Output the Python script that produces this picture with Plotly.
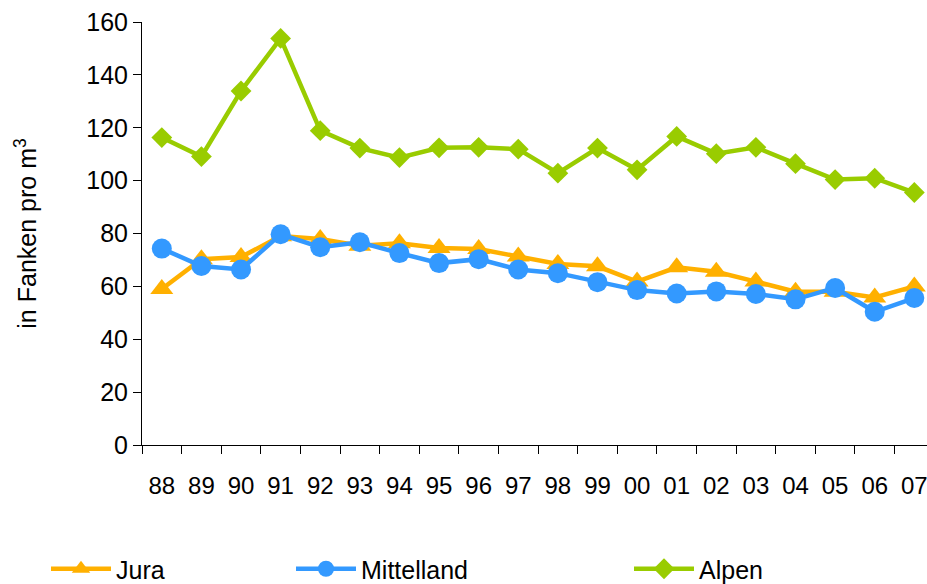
import plotly.graph_objects as go

# Years (two-digit labels) and prices per cubic metre by region
years = ["88", "89", "90", "91", "92", "93", "94", "95", "96", "97",
         "98", "99", "00", "01", "02", "03", "04", "05", "06", "07"]
jura = [59, 70.3, 71.1, 79, 77.9, 75.4, 76.3, 74.5, 74.1, 71.3,
        68.5, 67.6, 61.8, 67.2, 65.5, 61.8, 58, 58, 55.8, 60]
mittelland = [74.3, 67.7, 66.4, 79.7, 74.8, 76.7, 72.6, 68.8, 70.3, 66.4,
              65, 61.6, 58.6, 57.3, 58.1, 57.1, 55.1, 59.4, 50.4, 55.6]
alpen = [116.3, 109.1, 133.9, 153.8, 118.9, 112.3, 108.7, 112.4, 112.6, 111.9,
         102.8, 112.3, 104.1, 116.7, 110.2, 112.6, 106.4, 100.4, 100.9, 95.5]
y_ticks = [0, 20, 40, 60, 80, 100, 120, 140, 160]

FONT = "Liberation Sans, Arial, sans-serif"
W, H = 927, 584

series = [
    ("Jura", jura, "#FFB000", "triangle-up", 20, "legend", 46),
    ("Mittelland", mittelland, "#3399FF", "circle", 20, "legend2", 291),
    ("Alpen", alpen, "#99CC00", "diamond", 16, "legend3", 629),
]

fig = go.Figure()
legends = {}
for name, vals, color, symbol, size, leg, lx in series:
    fig.add_trace(go.Scatter(
        x=years, y=vals, name=name, mode="lines+markers",
        line=dict(color=color, width=4.5),
        marker=dict(symbol=symbol, size=size, color=color),
        legend=leg, showlegend=True,
    ))
    legends[leg] = dict(
        xref="container", yref="container", x=lx / W, y=1 - 569 / H,
        xanchor="left", yanchor="middle", orientation="h",
        font=dict(family=FONT, size=25, color="#000000"),
        bgcolor="rgba(0,0,0,0)", itemwidth=60,
    )

fig.update_layout(
    width=W, height=H, showlegend=True,
    margin=dict(l=142, r=0, t=22, b=139),
    paper_bgcolor="white", plot_bgcolor="white",
    font=dict(family=FONT, size=25, color="#000000"),
    xaxis=dict(
        type="category", range=[-0.5, 19.32], automargin=False,
        showline=True, linecolor="#000000", linewidth=1,
        ticks="outside", ticklen=8, tickcolor="#000000", tickson="boundaries",
        showgrid=False, zeroline=False,
        tickfont=dict(family=FONT, size=24),
        ticklabelstandoff=19,
    ),
    yaxis=dict(
        range=[0, 160], tickvals=y_ticks,
        showline=True, linecolor="#000000", linewidth=1,
        ticks="outside", ticklen=8, tickcolor="#000000",
        showgrid=False, zeroline=False,
        tickfont=dict(family=FONT, size=25),
        title=dict(text="in Fanken pro m<sup>3</sup>", font=dict(family=FONT, size=25),
                   standoff=42),
    ),
    **legends,
)

fig.write_html("out.html")
